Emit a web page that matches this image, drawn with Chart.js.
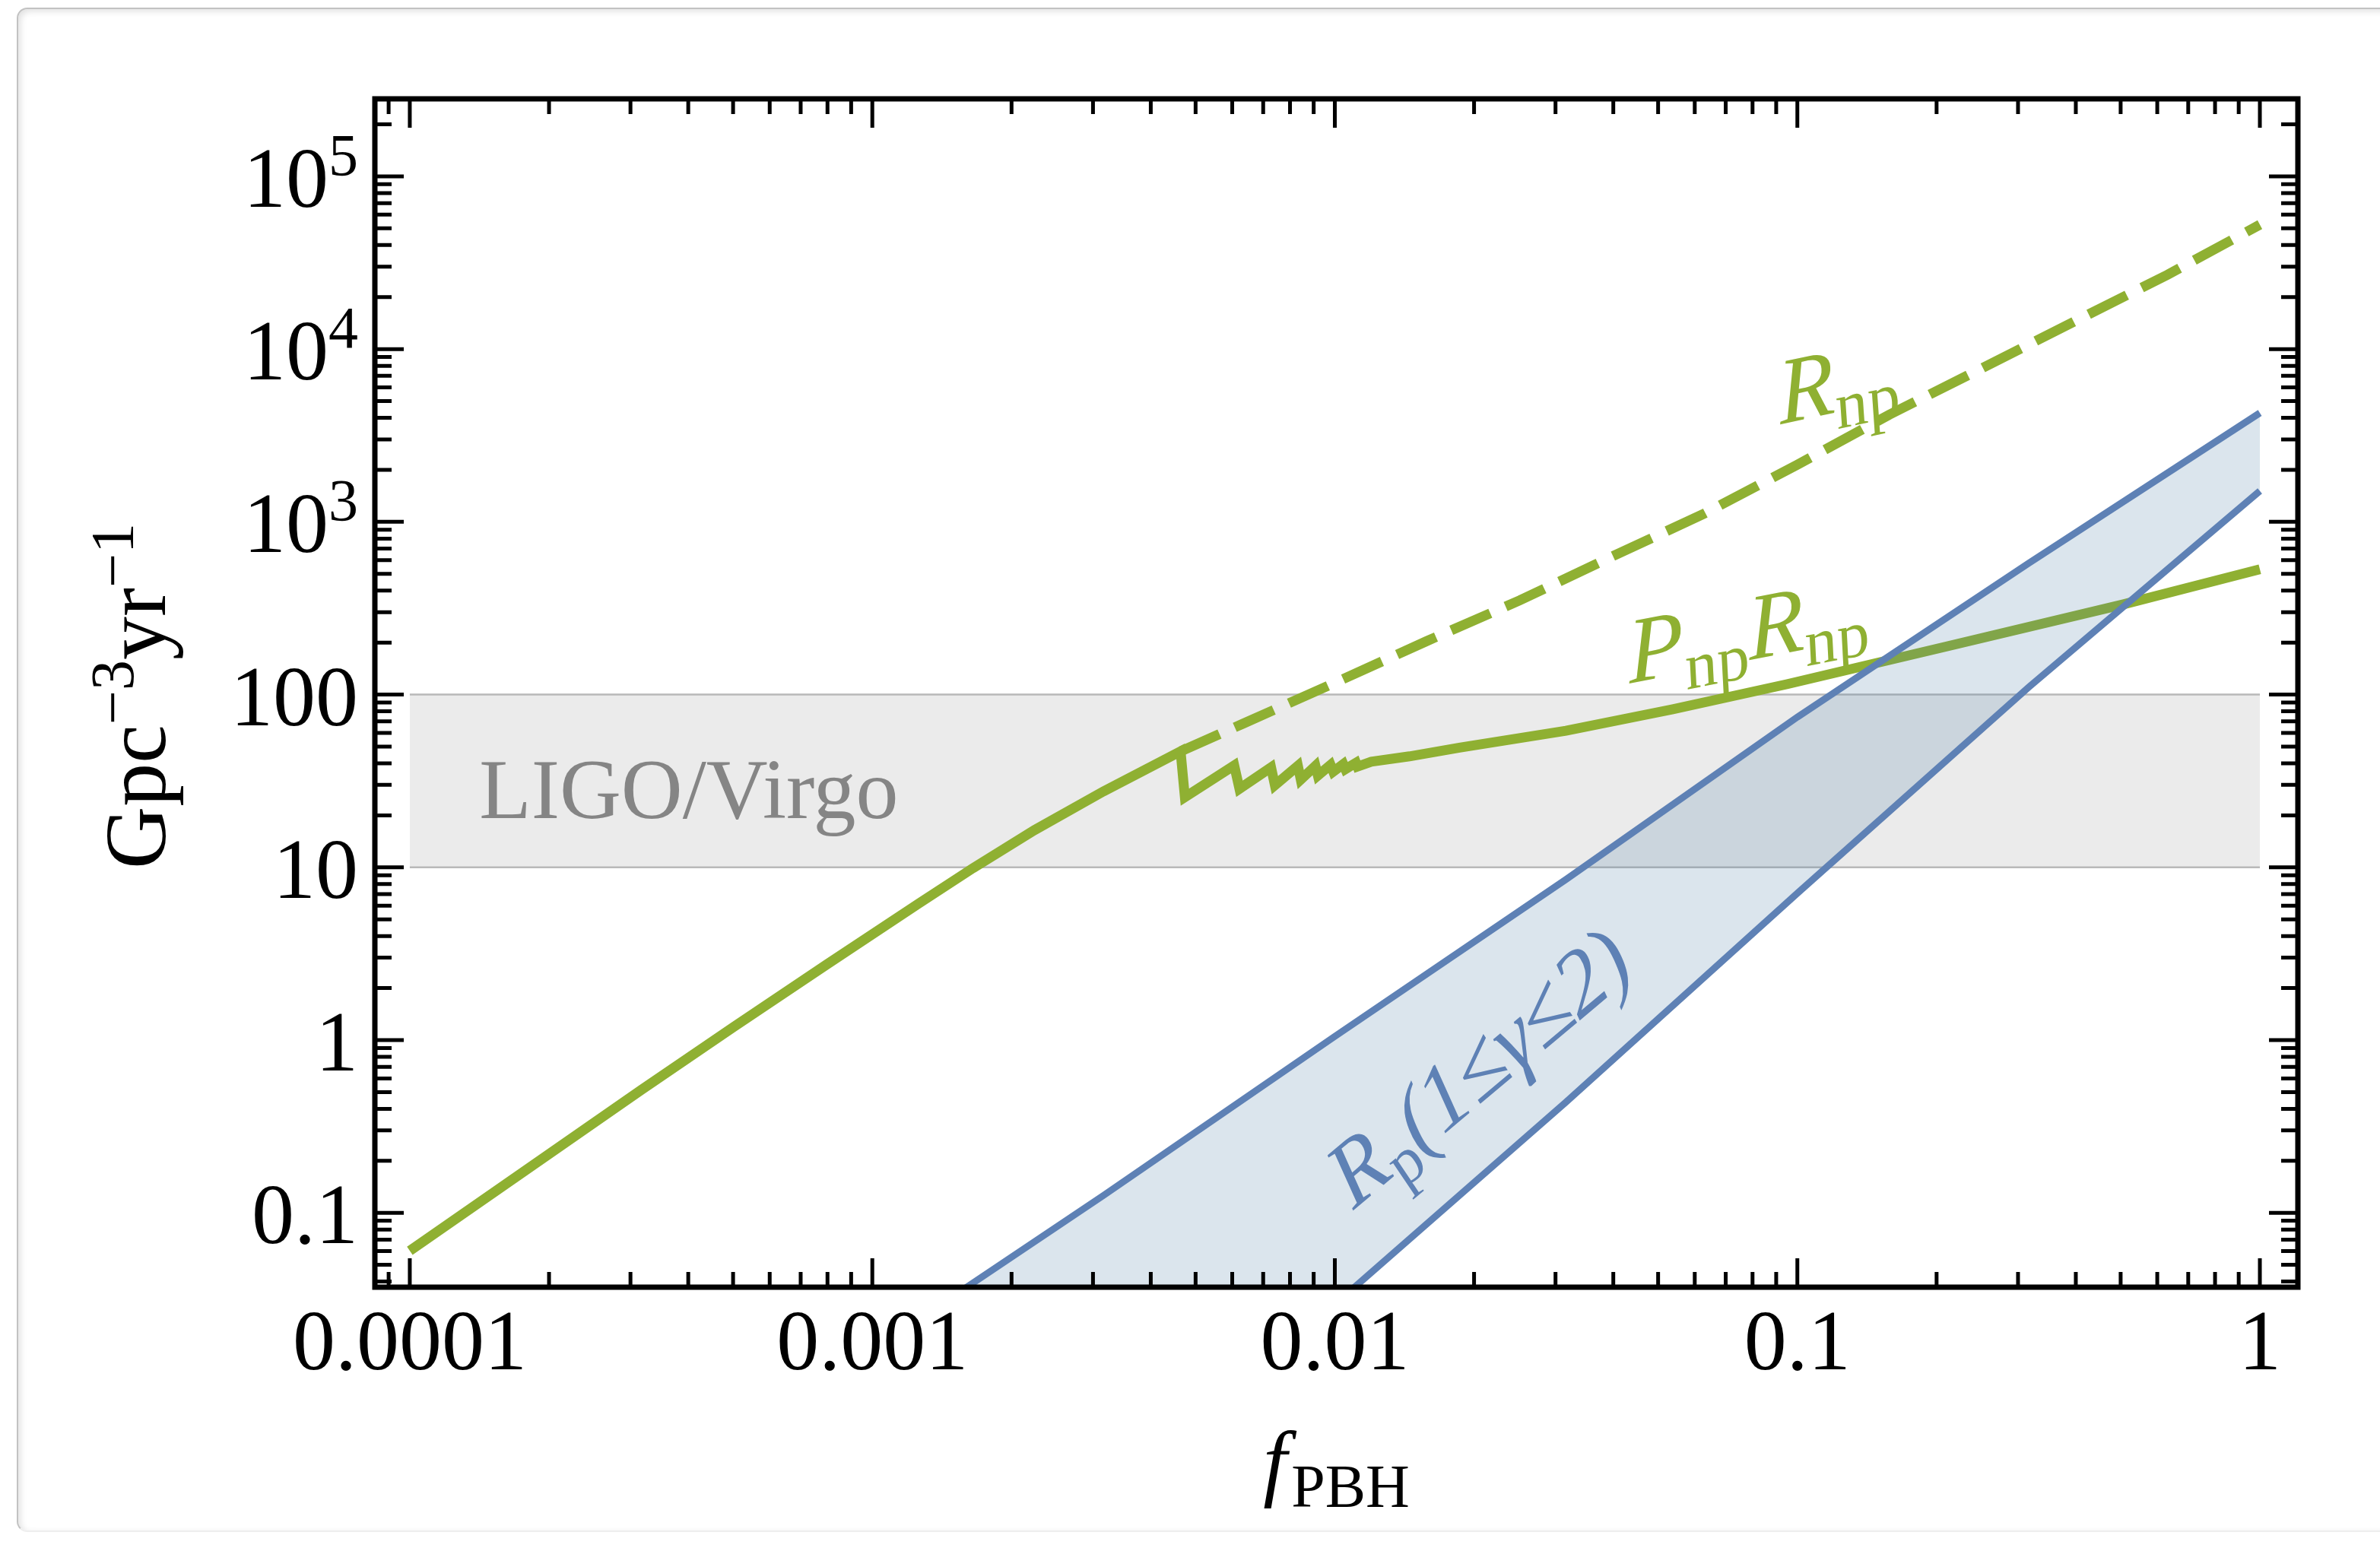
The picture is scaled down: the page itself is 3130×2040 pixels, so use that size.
<!DOCTYPE html>
<html>
<head>
<meta charset="utf-8">
<script src="https://cdn.jsdelivr.net/npm/chart.js@4.4.1/dist/chart.umd.min.js"></script>
<style>
html, body { margin: 0; padding: 0; background: #fff; }
#wrap { position: relative; width: 3130px; height: 2040px; overflow: hidden; }
#edge { position: absolute; left: 22px; top: 10px; width: 3200px; height: 2001px;
  border: 2px solid #c2c2c2; border-bottom-color: #eeeeee; border-radius: 14px;
  box-shadow: inset 3px 3px 8px rgba(0,0,0,0.12); }
canvas { position: absolute; left: 0; top: 0; }
</style>
</head>
<body>
<div id="wrap"><div id="edge"></div><canvas id="c" width="3130" height="2040"></canvas></div>
<script>
// P_np R_np (solid green)
const pnpX = [1.00e-4, 2.00e-4, 3.16e-4, 5.01e-4, 7.94e-4, 1.26e-3, 1.65e-3, 2.24e-3, 3.16e-3, 4.64e-3, 4.74e-3,
  6.06e-3, 6.22e-3, 7.28e-3, 7.42e-3, 8.32e-3, 8.44e-3, 9.08e-3, 9.19e-3, 9.79e-3, 9.92e-3,
  0.01043, 0.01054, 0.01111, 0.01119, 0.01199, 0.0145, 0.0186, 0.0316, 0.0538, 0.0952, 0.212, 0.507, 1.0];
const pnpY = [0.0603, 0.219, 0.513, 1.19, 2.72, 6.17, 9.89, 16.4, 27.5, 46.9, 25.5,
  38.9, 28.5, 37.9, 29.9, 38.7, 32.2, 38.7, 34.0, 39.2, 35.8,
  39.6, 37.0, 40.3, 38.3, 40.9, 43.9, 49.3, 61.7, 82.2, 115, 191, 333, 531];

// R_np (dashed green)
const rnpX = [4.64e-3, 6.31e-3, 0.01, 0.0158, 0.0251, 0.0398, 0.0631, 0.1, 0.158, 0.251, 0.398, 0.631, 1.0];
const rnpY = [46.9, 67.6, 117, 204, 351, 631, 1120, 2140, 4170, 7760, 14500, 26900, 52500];

// R_p band, 1 <= gamma <= 2 (lower edge runs below the frame on the left)
const bandX = [1.58e-3, 3.16e-3, 0.01, 0.0316, 0.1, 0.316, 1.0];
const bandUpper = [0.0363, 0.126, 1.05, 8.51, 74.1, 575, 4270];
const bandLower = [4.0e-4, 2.0e-3, 0.0295, 0.437, 7.08, 110, 1510];

// LIGO/Virgo range
const ligoX = [1e-4, 1];
const ligoLow = [10, 10];
const ligoHigh = [100, 100];

const xTickVals = [1e-4, 1e-3, 1e-2, 0.1, 1];
const xTickLabels = ['0.0001', '0.001', '0.01', '0.1', '1'];
const yTickVals = [0.1, 1, 10, 100, 1e3, 1e4, 1e5];
const yTickBase = ['0.1', '1', '10', '100', '10', '10', '10'];
const yTickExp = ['', '', '', '', '3', '4', '5'];

const green = '#8FB032';
const blue = '#5E81B5';
const serif = '"Liberation Serif", "DejaVu Serif", serif';
const font = (size, italic) => (italic ? 'italic ' : '') + size + 'px ' + serif;
const pts = (xs, ys) => xs.map((x, i) => ({x: x, y: ys[i]}));

// draw a run of text pieces (sub/superscripts) centred on x,y, optionally rotated and slanted
function drawParts(ctx, parts, x, y, angle, align, shift, slant) {
  ctx.save();
  ctx.translate(x, y);
  ctx.rotate(angle || 0);
  if (slant) ctx.transform(1, 0, -Math.tan(slant * Math.PI / 180), 1, 0, 0);
  let w = 0;
  for (const p of parts) { ctx.font = p.f; p.w = ctx.measureText(p.t).width + (p.gap || 0); w += p.w; }
  let cx = align === 'right' ? -w : align === 'left' ? 0 : -w / 2;
  for (const p of parts) { ctx.font = p.f; ctx.fillText(p.t, cx, (p.dy || 0) + (shift || 0)); cx += p.w; }
  ctx.restore();
}

const frame = {
  id: 'frame',
  afterDatasetsDraw(chart) {
    const {ctx, chartArea: a, scales: {x, y}} = chart;
    ctx.save();
    ctx.strokeStyle = '#000';
    ctx.lineWidth = 5;
    ctx.beginPath();
    for (let k = -5; k <= 0; k++) {
      for (let m = 1; m <= 9; m++) {
        const v = m * Math.pow(10, k);
        if (v < x.min || v > x.max) continue;
        const px = x.getPixelForValue(v), len = m === 1 ? 38 : 20;
        ctx.moveTo(px, a.bottom); ctx.lineTo(px, a.bottom - len);
        ctx.moveTo(px, a.top); ctx.lineTo(px, a.top + len);
      }
    }
    for (let k = -2; k <= 5; k++) {
      for (let m = 1; m <= 9; m++) {
        const v = m * Math.pow(10, k);
        if (v < y.min || v > y.max) continue;
        const py = y.getPixelForValue(v), len = m === 1 ? 38 : 22;
        ctx.moveTo(a.left, py); ctx.lineTo(a.left + len, py);
        ctx.moveTo(a.right, py); ctx.lineTo(a.right - len, py);
      }
    }
    ctx.stroke();
    ctx.lineWidth = 7;
    ctx.strokeRect(a.left, a.top, a.right - a.left, a.bottom - a.top);

    // tick labels
    ctx.fillStyle = '#000';
    ctx.textBaseline = 'alphabetic';
    ctx.textAlign = 'center';
    ctx.font = font(112);
    xTickVals.forEach((v, i) => ctx.fillText(xTickLabels[i], x.getPixelForValue(v), a.bottom + 108));
    ctx.textAlign = 'left';
    yTickVals.forEach((v, i) => {
      const py = y.getPixelForValue(v);
      const parts = [{t: yTickBase[i], f: font(112)}];
      if (yTickExp[i]) parts.push({t: yTickExp[i], f: font(78), dy: -42});
      drawParts(ctx, parts, a.left - 22, py + 40, 0, 'right');
    });

    // axis titles
    drawParts(ctx, [
      {t: 'Gpc', f: font(114)}, {t: '\u22123', f: font(80), dy: -42},
      {t: 'yr', f: font(114)}, {t: '\u22121', f: font(80), dy: -42}
    ], 217, (a.top + a.bottom) / 2 + 4, -Math.PI / 2);
    drawParts(ctx, [
      {t: 'f', f: font(112, true), gap: 6}, {t: 'PBH', f: font(80), dy: 22}
    ], (a.left + a.right) / 2, 1960, 0);

    // curve labels
    ctx.fillStyle = '#858585';
    drawParts(ctx, [{t: 'LIGO/Virgo', f: font(112)}], x.getPixelForValue(4.01e-4), y.getPixelForValue(19.3), 0);
    ctx.fillStyle = green;
    drawParts(ctx, [{t: 'R', f: font(122, true)}, {t: 'np', f: font(86), dy: 22}],
      x.getPixelForValue(0.1225), y.getPixelForValue(6550), -12 * Math.PI / 180, 'center', 40, 8);
    drawParts(ctx, [{t: 'P', f: font(122, true)}, {t: 'np', f: font(86), dy: 22},
      {t: 'R', f: font(122, true)}, {t: 'np', f: font(86), dy: 22}],
      x.getPixelForValue(0.0782), y.getPixelForValue(238), -11 * Math.PI / 180, 'center', 40, 8);
    ctx.fillStyle = blue;
    drawParts(ctx, [{t: 'R', f: font(118, true)}, {t: 'p', f: font(84), dy: 22},
      {t: '(1\u2264\u03B3\u22642)', f: font(118, true)}],
      x.getPixelForValue(0.0204), y.getPixelForValue(0.708), -40 * Math.PI / 180, 'center', 40, 6);
    ctx.restore();
  }
};

new Chart(document.getElementById('c'), {
  type: 'line',
  data: {
    datasets: [
      {data: pts(ligoX, ligoHigh), borderColor: '#b9b9b9', borderWidth: 2.5, fill: 1, backgroundColor: '#ebebeb', order: 6},
      {data: pts(ligoX, ligoLow), borderColor: '#b9b9b9', borderWidth: 2.5, fill: false, order: 5},
      {data: pts(pnpX, pnpY), borderColor: green, borderWidth: 13, fill: false, order: 4},
      {data: pts(rnpX, rnpY), borderColor: green, borderWidth: 13, borderDash: [56, 22], fill: false, order: 3},
      {data: pts(bandX, bandUpper), borderColor: blue, borderWidth: 9, fill: 5, backgroundColor: 'rgba(75,125,165,0.2)', order: 2},
      {data: pts(bandX, bandLower), borderColor: blue, borderWidth: 9, fill: false, order: 1}
    ]
  },
  options: {
    responsive: false,
    animation: false,
    layout: {padding: {left: 493, right: 108, top: 130, bottom: 347}},
    elements: {point: {radius: 0}, line: {tension: 0, borderCapStyle: 'butt'}},
    scales: {
      x: {type: 'logarithmic', min: 8.404e-5, max: 1.2083, display: false},
      y: {type: 'logarithmic', min: 0.03711, max: 2.81e5, display: false}
    },
    plugins: {
      legend: {display: false},
      tooltip: {enabled: false},
      filler: {drawTime: 'beforeDatasetDraw'}
    }
  },
  plugins: [frame]
});
</script>
</body>
</html>
